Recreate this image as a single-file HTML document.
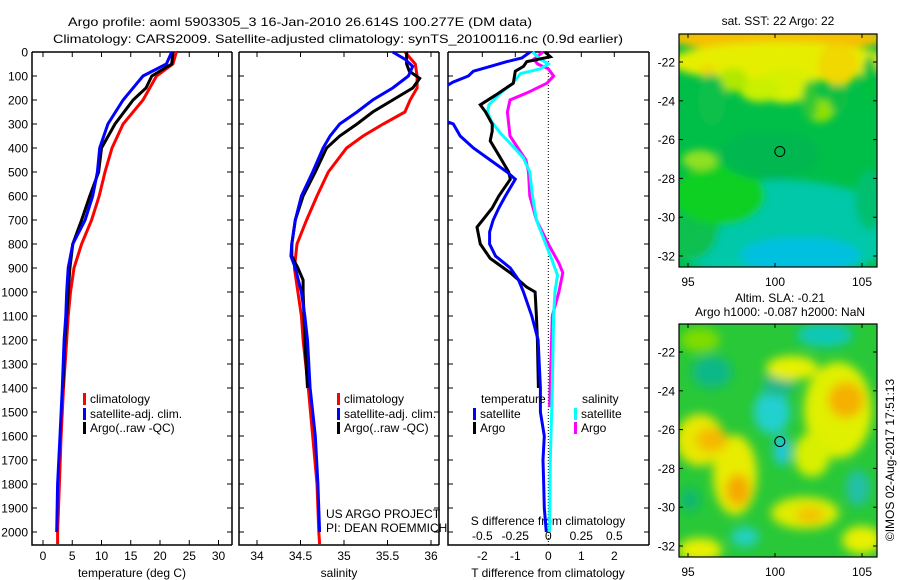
<!DOCTYPE html>
<html><head><meta charset="utf-8">
<style>
html,body{margin:0;padding:0;background:#fff;}
svg{display:block;font-family:"Liberation Sans",sans-serif;}
text{font-size:12px;fill:#000;}
</style></head>
<body>
<svg id="chart" width="900" height="580" viewBox="0 0 900 580" xmlns="http://www.w3.org/2000/svg">
<defs>
 <filter id="blur1" x="-50%" y="-50%" width="200%" height="200%"><feGaussianBlur stdDeviation="5"/></filter>
 <filter id="blur2" x="-50%" y="-50%" width="200%" height="200%"><feGaussianBlur stdDeviation="4"/></filter>
 <clipPath id="clipMap1"><rect x="679" y="34" width="198" height="233"/></clipPath>
 <clipPath id="clipMap2"><rect x="679" y="324" width="198" height="233"/></clipPath>
 <clipPath id="clipP1"><rect x="32" y="45" width="200" height="500"/></clipPath>
 <clipPath id="clipP2"><rect x="239" y="45" width="200" height="500"/></clipPath>
 <clipPath id="clipP3"><rect x="448" y="45" width="201" height="500"/></clipPath>
</defs>
<text x="68" y="26" font-size="14" textLength="464" lengthAdjust="spacingAndGlyphs">Argo profile: aoml 5903305_3 16-Jan-2010 26.614S 100.277E (DM data)</text>
<text x="53" y="43" font-size="14" textLength="570" lengthAdjust="spacingAndGlyphs">Climatology: CARS2009. Satellite-adjusted climatology: synTS_20100116.nc (0.9d earlier)</text>
<g id="axes"></g>
<g id="maps"></g>
</svg>
<script>
// ---- data (depth in m) ----
const tempClimDepth = [0,50,100,200,300,400,500,600,700,800,900,1000,1100,1200,1400,1600,1800,2000,2050];
const tempClimValue = [22.8,22.2,19.4,17.1,13.7,11.8,10.6,9.6,8.3,6.6,5.3,4.7,4.3,4.05,3.5,3.1,2.8,2.5,2.5];
const tempSatDepth = [0,50,100,200,300,400,500,600,700,800,900,1000,1100,1200,1400,1600,1800,2000];
const tempSatValue = [22.0,21.1,17.1,13.7,11.1,9.7,9.3,8.5,7.2,5.1,4.3,4.05,3.9,3.6,3.3,2.9,2.5,2.35];
const tempArgoDepth = [0,50,100,150,200,300,400,500,600,700,800,900,1000,1100,1200,1400];
const tempArgoValue = [22.2,22.0,18.6,17.6,15.4,12.3,10.0,9.5,8.0,6.6,5.1,4.6,4.3,4.05,3.75,3.4];

const salClimDepth = [0,50,100,150,200,250,300,350,400,500,600,700,800,900,1000,1100,1200,1400,1600,1800,2000,2050];
const salClimValue = [35.70,35.82,35.84,35.84,35.76,35.70,35.45,35.22,35.03,34.82,34.69,34.57,34.46,34.43,34.47,34.51,34.53,34.59,34.64,34.69,34.71,34.72];
const salSatDepth = [0,30,60,100,150,200,250,300,350,400,500,600,700,800,850,900,1000,1100,1200,1400,1600,1800,2000];
const salSatValue = [35.56,35.70,35.79,35.74,35.56,35.33,35.15,34.95,34.84,34.76,34.64,34.51,34.44,34.40,34.39,34.44,34.51,34.55,34.58,34.61,34.67,34.70,34.72];
const salArgoDepth = [0,50,80,110,150,200,250,300,350,400,500,600,700,800,850,900,950,1000,1100,1200,1400];
const salArgoValue = [35.72,35.72,35.75,35.87,35.79,35.56,35.33,35.15,34.95,34.80,34.67,34.53,34.44,34.40,34.40,34.47,34.53,34.53,34.54,34.55,34.58];

const dTSatDepth = [0,25,40,60,80,100,125,150,283,300,350,400,450,500,530,600,650,700,750,800,850,900,950,1000,1100,1200,1400,1500,1600,1700,1800,1900,2000];
const dTSatValue = [-0.55,-0.8,-1.25,-1.76,-2.27,-2.42,-2.88,-3.2,-3.2,-2.88,-2.67,-2.27,-1.76,-1.25,-1.0,-1.3,-1.5,-1.67,-1.78,-1.78,-1.6,-1.15,-0.9,-0.75,-0.5,-0.31,-0.24,-0.24,-0.12,-0.16,-0.14,-0.12,-0.06];
const dTArgoDepth = [0,20,40,60,80,130,180,220,250,300,330,370,430,500,530,600,650,730,800,860,920,980,1000,1100,1200,1400];
const dTArgoValue = [-0.1,0.06,-0.65,-0.75,-1.0,-1.06,-1.6,-2.06,-1.9,-1.7,-1.7,-1.76,-1.5,-1.2,-1.15,-1.5,-1.7,-2.16,-2.06,-1.76,-1.15,-0.65,-0.4,-0.36,-0.33,-0.3];
const dSSatDepth = [0,30,50,70,90,130,170,220,250,290,340,380,440,500,600,700,800,870,930,1000,1100,1400,1700,2000];
const dSSatValue = [-0.12,-0.06,0,-0.06,-0.21,-0.27,-0.36,-0.45,-0.46,-0.43,-0.36,-0.29,-0.19,-0.14,-0.12,-0.09,-0.02,0.03,0.07,0.05,0.04,0.03,0.015,0.01];
const dSArgoDepth = [0,30,50,70,100,130,170,200,250,300,350,400,450,500,600,700,800,880,920,1000,1100,1480];
const dSArgoValue = [-0.04,-0.11,-0.08,0,0.04,-0.01,-0.16,-0.29,-0.31,-0.3,-0.29,-0.23,-0.17,-0.15,-0.14,-0.09,0,0.08,0.11,0.08,0.03,0.01];

const depthTicks = [0,100,200,300,400,500,600,700,800,900,1000,1100,1200,1300,1400,1500,1600,1700,1800,1900,2000];
const tempTicks = [0,5,10,15,20,25,30];
const salTicks = [34,34.5,35,35.5,36];
const salTickLabels = ["34","34.5","35","35.5","36"];
const dTTicks = [-2,-1,0,1,2];
const dSTicks = [-0.5,-0.25,0,0.25,0.5];
const dSTickLabels = ["-0.5","-0.25","0","0.25","0.5"];
const latTicks = [-22,-24,-26,-28,-30,-32];
const lonTicks = [95,100,105];

// ---- scales ----
const TOP=52, BOT=545;
const yD = d => TOP + d*0.24;
const xT = v => 43 + v*5.85;
const xS = v => 257 + (v-34)*87;
const xDT = v => 548.3 + v*33;
const xDS = v => 548.3 + v*132;
const mapY1 = lat => 62 + (-22-lat)*19.4;
const mapY2 = lat => 352 + (-22-lat)*19.4;
const mapX = lon => 688 + (lon-95)*17.4;

const NS='http://www.w3.org/2000/svg';
const axes=document.getElementById('axes');
function mk(tag, attrs, parent){const e=document.createElementNS(NS,tag);for(const k in attrs)e.setAttribute(k,attrs[k]);(parent||axes).appendChild(e);return e;}
function txt(x,y,s,anchor,parent,size){const t=mk('text',{x:x,y:y,'text-anchor':anchor||'start'},parent);if(size)t.setAttribute('font-size',size);t.textContent=s;return t;}

function stepPath(depths, vals, xf){
  let d='';
  for(let i=0;i<depths.length;i++){
    const x=xf(vals[i]).toFixed(1), y=yD(depths[i]).toFixed(1);
    d += (i===0?'M':'L')+x+','+y;
  }
  return d;
}
function line(depths, vals, xf, color, clip, name){
  const p=mk('path',{d:stepPath(depths,vals,xf),fill:'none',stroke:color,'stroke-width':3,'clip-path':'url(#'+clip+')'});
  
  
  return p;
}

function frame(x0,x1,name){
  const g=mk('g',{});
  
  
  mk('path',{d:`M${x0},${TOP}L${x1},${TOP}M${x0},${TOP}L${x0},${BOT}L${x1},${BOT}M${x1},${TOP}L${x1},${BOT}`,stroke:'#000','stroke-width':1.5,fill:'none'},g);
  return g;
}
frame(32,232,'temperature-panel');
frame(239,439,'salinity-panel');
frame(448,649,'difference-panel');

depthTicks.forEach(d=>{
  const y=yD(d);
  [[32,232],[239,439],[448,649]].forEach(([a,b])=>{
    mk('line',{x1:a,y1:y,x2:a+5,y2:y,stroke:'#000'});
    mk('line',{x1:b,y1:y,x2:b-5,y2:y,stroke:'#000'});
  });
  const t=txt(28,y+4.5,String(d),'end');
  
  
});
function xticks(ticks,labels,xf,labelY){
  ticks.forEach((v,i)=>{
    const x=xf(v);
    mk('line',{x1:x,y1:TOP,x2:x,y2:TOP+5,stroke:'#000'});
    mk('line',{x1:x,y1:BOT,x2:x,y2:BOT-5,stroke:'#000'});
    const t=txt(x,labelY,labels[i],'middle');
    
    
  });
}
xticks(tempTicks,tempTicks.map(String),xT,560);
xticks(salTicks,salTickLabels,xS,560);
dTTicks.forEach(v=>{
  const x=xDT(v);
  mk('line',{x1:x,y1:TOP,x2:x,y2:TOP+5,stroke:'#000'});
  const t=txt(x,560,String(v),'middle');
  
  
});
dSTicks.forEach((v,i)=>{
  const t=txt(xDS(v),540,dSTickLabels[i],'middle');
  
  
});
const zl=mk('line',{x1:xDT(0),y1:TOP,x2:xDT(0),y2:BOT,stroke:'#000','stroke-dasharray':'1,2'});



let at=txt(132,577,'temperature (deg C)','middle');


at=txt(339,577,'salinity','middle');


at=txt(548,577,'T difference from climatology','middle');


at=txt(548,525,'S difference from climatology','middle');



line(tempClimDepth,tempClimValue,xT,'#ff0000','clipP1','temp-climatology-line');
line(tempArgoDepth,tempArgoValue,xT,'#000000','clipP1','temp-argo-line');
line(tempSatDepth,tempSatValue,xT,'#0000ff','clipP1','temp-satellite-line');
line(salClimDepth,salClimValue,xS,'#ff0000','clipP2','sal-climatology-line');
line(salArgoDepth,salArgoValue,xS,'#000000','clipP2','sal-argo-line');
line(salSatDepth,salSatValue,xS,'#0000ff','clipP2','sal-satellite-line');
line(dSArgoDepth,dSArgoValue,xDS,'#ff00ff','clipP3','ds-argo-line');
line(dSSatDepth,dSSatValue,xDS,'#00ffff','clipP3','ds-satellite-line');
line(dTArgoDepth,dTArgoValue,xDT,'#000000','clipP3','dt-argo-line');
line(dTSatDepth,dTSatValue,xDT,'#0000ff','clipP3','dt-satellite-line');

function legend(x,y,color,label,name){
  const g=mk('g',{});
  
  
  mk('rect',{x:x,y:y-10,width:3,height:12,fill:color},g);
  txt(x+7,y,label,'start',g);
}
[[83,'temp'],[337,'sal']].forEach(([x,p])=>{
  legend(x,403,'#ff0000','climatology',p+'-legend-climatology');
  legend(x,418,'#0000ff','satellite-adj. clim.',p+'-legend-satellite');
  legend(x,432,'#000000','Argo(..raw -QC)',p+'-legend-argo');
});
let lt=txt(481,403,'temperature','start');


lt=txt(582,403,'salinity','start');


legend(473,418,'#0000ff','satellite','dt-legend-satellite');
legend(473,432,'#000000','Argo','dt-legend-argo');
legend(574,418,'#00ffff','satellite','ds-legend-satellite');
legend(574,432,'#ff00ff','Argo','ds-legend-argo');
lt=txt(326,518,'US ARGO PROJECT','start');


lt=txt(326,532,'PI: DEAN ROEMMICH','start');



// ---- maps ----
const maps=document.getElementById('maps');
function map(y0,yf,clip,name,drawFn){
  const g=mk('g',{},maps);
  
  
  const inner=mk('g',{'clip-path':'url(#'+clip+')'},g);
  drawFn(inner);
  mk('rect',{x:679,y:y0,width:198,height:233,fill:'none',stroke:'#000','stroke-width':1.2},g);
  latTicks.forEach(l=>{
    const y=yf(l);
    mk('line',{x1:679,y1:y,x2:683,y2:y,stroke:'#000'},g);
    mk('line',{x1:877,y1:y,x2:873,y2:y,stroke:'#000'},g);
    txt(675,y+4.5,String(l),'end',g);
  });
  lonTicks.forEach(l=>{
    const x=mapX(l);
    mk('line',{x1:x,y1:y0,x2:x,y2:y0+4,stroke:'#000'},g);
    mk('line',{x1:x,y1:y0+233,x2:x,y2:y0+229,stroke:'#000'},g);
    txt(x,y0+252,String(l),'middle',g);
  });
  const c=mk('circle',{cx:mapX(100.277),cy:yf(-26.614),r:5,fill:'none',stroke:'#000','stroke-width':1},g);
  
  
  return g;
}
map(34,mapY1,'clipMap1','sst-map',g=>{
  mk('rect',{x:679,y:34,width:198,height:233,fill:'#00bf48'},g);
  const b=mk('g',{filter:'url(#blur2)'},g);
  [
   [780,230,120,50,'#00c8a8'],[800,255,60,18,'#00c0e0'],[690,220,30,40,'#10c050'],
   [720,195,45,30,'#10d020'],[700,160,18,10,'#90e020'],[770,155,50,25,'#00b850'],
   [870,200,15,30,'#00c070'],
   [778,38,110,14,'#f5c000'],[780,62,110,20,'#e6ee00'],[785,85,28,18,'#d8f000'],[760,90,20,12,'#c8f000'],
   [820,110,15,12,'#90e000'],[838,65,20,22,'#f0d800'],[870,80,8,25,'#00c040'],[733,80,15,12,'#b0e800'],
   [708,70,8,6,'#f0d800'],[712,100,14,26,'#10c048'],[838,98,10,14,'#10c040'],[810,100,8,20,'#30c830']
  ].forEach(([cx,cy,rx,ry,f])=>mk('ellipse',{cx:cx,cy:cy,rx:rx,ry:ry,fill:f},b));
});
map(324,mapY2,'clipMap2','sla-map',g=>{
  mk('rect',{x:679,y:324,width:198,height:233,fill:'#28c838'},g);
  const b=mk('g',{filter:'url(#blur1)'},g);
  [
   [712,372,20,16,'#10b888'],[825,335,28,12,'#10c8b8'],[700,340,20,12,'#80dc00'],
   [700,440,24,26,'#e8e800'],[735,475,22,40,'#e8ec00'],[712,440,16,12,'#f5b800'],[738,490,12,16,'#f5a800'],
   [772,412,18,22,'#20d0d0'],[782,450,8,16,'#20c8e0'],[778,385,16,12,'#20b888'],
   [792,368,26,12,'#e8f000'],
   [838,410,34,48,'#e0f000'],[846,400,18,18,'#f5b000'],[812,455,18,22,'#d8f000'],
   [805,513,34,16,'#e0ec00'],[810,515,14,8,'#f5c000'],
   [745,537,14,10,'#20d0c0'],[862,540,20,14,'#e8f000'],[858,488,12,18,'#20c0a8'],[700,550,22,12,'#e8f000'],[690,500,10,12,'#10b870']
  ].forEach(([cx,cy,rx,ry,f])=>mk('ellipse',{cx:cx,cy:cy,rx:rx,ry:ry,fill:f},b));
});
let mt=txt(778,25,'sat. SST: 22  Argo: 22','middle');


mt=txt(780,302,'Altim. SLA: -0.21','middle');


mt=txt(780,316,'Argo h1000: -0.087 h2000: NaN','middle');


mt=mk('text',{x:0,y:0,'text-anchor':'middle',transform:'translate(894,460) rotate(-90)'},maps);
mt.textContent='©IMOS 02-Aug-2017 17:51:13';


</script>
</body></html>
